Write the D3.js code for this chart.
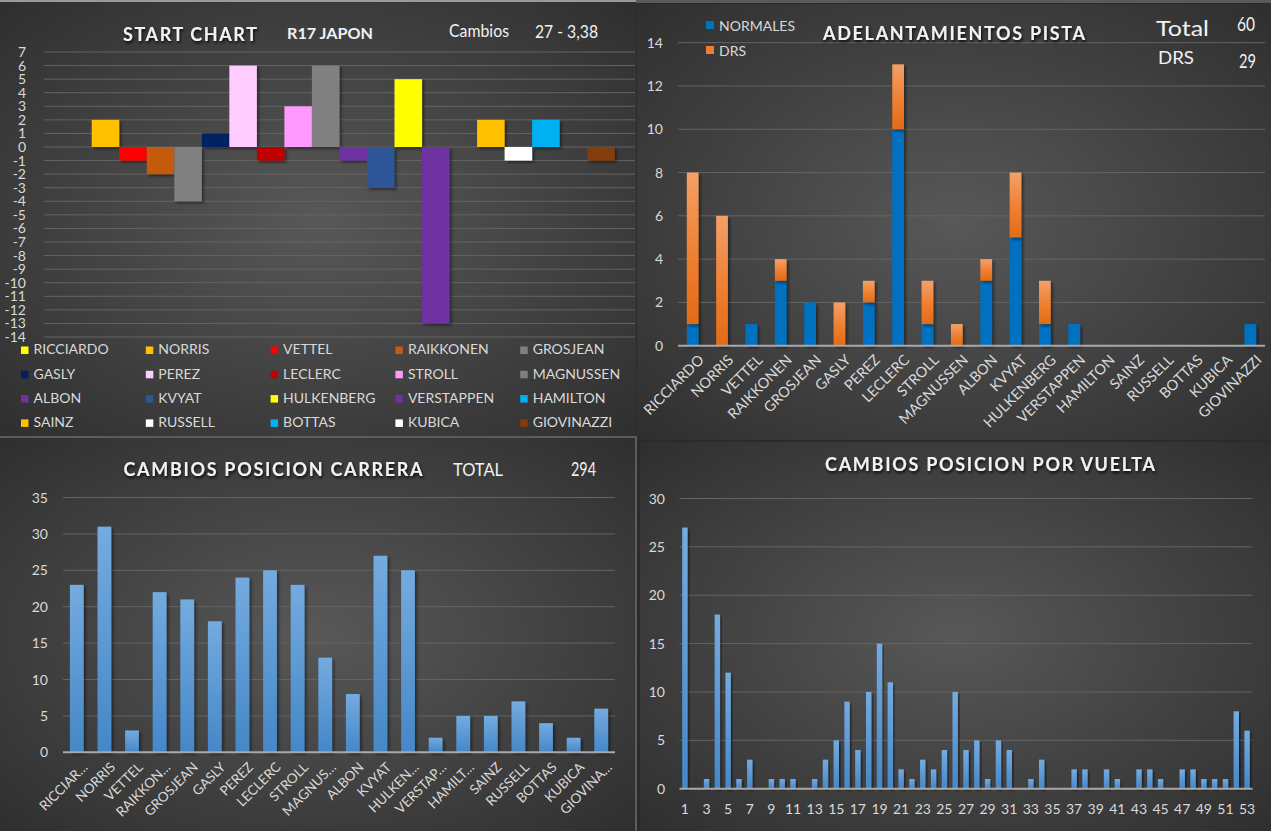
<!DOCTYPE html>
<html>
<head>
<meta charset="utf-8">
<script src="https://cdn.jsdelivr.net/npm/d3@7/dist/d3.min.js"></script>
<style>
html,body{margin:0;padding:0;background:#2c2c2c;}
svg{display:block;}
text{font-family:Lato,"Open Sans",sans-serif;}
</style>
</head>
<body>
<svg id="chart" width="1271" height="831"></svg>
<script>
// ---------- DATA ----------
const drivers = ["RICCIARDO","NORRIS","VETTEL","RAIKKONEN","GROSJEAN","GASLY","PEREZ","LECLERC","STROLL","MAGNUSSEN","ALBON","KVYAT","HULKENBERG","VERSTAPPEN","HAMILTON","SAINZ","RUSSELL","BOTTAS","KUBICA","GIOVINAZZI"];
const driverColors = ["#FFFF00","#FFC000","#FF0000","#C55A11","#808080","#002060","#FFCCFF","#C00000","#FF99FF","#808080","#7030A0","#2F5597","#FFFF00","#7030A0","#00B0F0","#FFC000","#FFFFFF","#00B0F0","#FFFFFF","#843C0C"];
const startGain = [0,2,-1,-2,-4,1,6,-1,3,6,-1,-3,5,-13,0,2,-1,2,0,-1];
const startTicks = d3.range(-14, 8);

const overtakeNormal = [1,0,1,3,2,0,2,10,1,0,3,5,1,1,0,0,0,0,0,1];
const overtakeDRS    = [7,6,0,1,0,2,1,3,2,1,1,3,2,0,0,0,0,0,0,0];
const overtakeTicks = [0,2,4,6,8,10,12,14];

const raceLabels = ["RICCIAR…","NORRIS","VETTEL","RAIKKON…","GROSJEAN","GASLY","PEREZ","LECLERC","STROLL","MAGNUS…","ALBON","KVYAT","HULKEN…","VERSTAP…","HAMILT…","SAINZ","RUSSELL","BOTTAS","KUBICA","GIOVINA…"];
const raceChanges = [23,31,3,22,21,18,24,25,23,13,8,27,25,2,5,5,7,4,2,6];
const raceTicks = [0,5,10,15,20,25,30,35];

const laps = d3.range(1, 54);
const lapChanges = [27,0,1,18,12,1,3,0,1,1,1,0,1,3,5,9,4,10,15,11,2,1,3,2,4,10,4,5,1,5,4,0,1,3,0,0,2,2,0,2,1,0,2,2,1,0,2,2,1,1,1,8,6];
const lapTicks = [0,5,10,15,20,25,30];
const lapTickLabels = laps.filter(l => l % 2 === 1);

// ---------- SETUP ----------
const svg = d3.select("#chart");
const defs = svg.append("defs");

const rg = defs.append("radialGradient").attr("id","panelBg").attr("cx","50%").attr("cy","50%").attr("r","72%");
rg.append("stop").attr("offset","0%").attr("stop-color","#585858");
rg.append("stop").attr("offset","100%").attr("stop-color","#2e2e2e");

const blueG = defs.append("linearGradient").attr("id","blueBar").attr("x1",0).attr("y1",0).attr("x2",0).attr("y2",1);
blueG.append("stop").attr("offset","0%").attr("stop-color","#74ABDF");
blueG.append("stop").attr("offset","100%").attr("stop-color","#4587C8");

const orG = defs.append("linearGradient").attr("id","orangeBar").attr("x1",0).attr("y1",0).attr("x2",0).attr("y2",1);
orG.append("stop").attr("offset","0%").attr("stop-color","#F3A068");
orG.append("stop").attr("offset","55%").attr("stop-color","#EF7F31");
orG.append("stop").attr("offset","100%").attr("stop-color","#E26B16");

const sh = defs.append("filter").attr("id","barShadow").attr("x","-30%").attr("y","-10%").attr("width","160%").attr("height","130%");
sh.append("feDropShadow").attr("dx",2).attr("dy",2).attr("stdDeviation",1.5).attr("flood-color","#000").attr("flood-opacity",0.45);

const tsh = defs.append("filter").attr("id","textShadow").attr("x","-10%").attr("y","-30%").attr("width","120%").attr("height","170%");
tsh.append("feDropShadow").attr("dx",1).attr("dy",2).attr("stdDeviation",1.5).attr("flood-color","#000").attr("flood-opacity",0.85);

const tickColor = "#d9d9d9";
const gridColor = "#646464";
const baseColor = "#a9a9a9";

// background panels
svg.append("rect").attr("x",0).attr("y",0).attr("width",1271).attr("height",831).attr("fill","#2b2b2b");
svg.append("rect").attr("x",0).attr("y",0).attr("width",636).attr("height",2).attr("fill","#9a9a9a");
svg.append("rect").attr("x",636).attr("y",0).attr("width",635).attr("height",3).attr("fill","#5a5a5a");
svg.append("rect").attr("x",0).attr("y",2).attr("width",636).attr("height",434).attr("fill","url(#panelBg)");
svg.append("rect").attr("x",637).attr("y",4).attr("width",634).attr("height",436).attr("fill","url(#panelBg)");
svg.append("rect").attr("x",0).attr("y",438).attr("width",635).attr("height",393).attr("fill","url(#panelBg)");
svg.append("rect").attr("x",640).attr("y",442).attr("width",631).attr("height",389).attr("fill","url(#panelBg)");
svg.append("rect").attr("x",0).attr("y",436).attr("width",637).attr("height",2).attr("fill","#5c5c5c");
svg.append("rect").attr("x",635).attr("y",436).attr("width",2).attr("height",395).attr("fill","#5c5c5c");

function title(x, y, txt, len, size){
  svg.append("text").attr("x",x).attr("y",y).attr("text-anchor","middle")
    .attr("font-family","'Open Sans',Lato,sans-serif").attr("font-weight","bold")
    .attr("font-size",size).attr("fill","#f2f2f2").attr("filter","url(#textShadow)")
    .attr("textLength",len).attr("lengthAdjust","spacing").text(txt);
}
function plain(x, y, txt, size, opts={}){
  const t = svg.append("text").attr("x",x).attr("y",y).attr("font-size",size)
    .attr("fill",opts.fill||"#f2f2f2").attr("text-anchor",opts.anchor||"start").text(txt);
  if(opts.family) t.attr("font-family",opts.family);
  if(opts.weight) t.attr("font-weight",opts.weight);
  if(opts.len) t.attr("textLength",opts.len).attr("lengthAdjust","spacingAndGlyphs");
  if(opts.filter) t.attr("filter",opts.filter);
  return t;
}
const narrow = "'Liberation Sans Narrow','DejaVu Sans Condensed',sans-serif";

// ---------- TOP LEFT: START CHART ----------
{
  const x = d3.scaleBand().domain(drivers).range([64.2, 614.7]).padding(0);
  const y = d3.scaleLinear().domain([-14, 7]).range([337, 52]);
  const g = svg.append("g");
  g.selectAll("line.grid").data(startTicks).join("line")
    .attr("x1",44).attr("x2",635).attr("y1",d=>y(d)).attr("y2",d=>y(d))
    .attr("stroke",gridColor).attr("stroke-width",1);
  g.selectAll("text.tick").data(startTicks).join("text")
    .attr("x",26).attr("y",d=>y(d)).attr("dy","0.36em").attr("text-anchor","end")
    .attr("font-size",14).attr("fill",tickColor).text(d=>d);
  g.selectAll("rect.bar").data(drivers).join("rect")
    .attr("x",d=>x(d)).attr("width",x.bandwidth())
    .attr("y",(d,i)=>y(Math.max(0,startGain[i])))
    .attr("height",(d,i)=>Math.abs(y(startGain[i])-y(0)))
    .attr("fill",(d,i)=>driverColors[i]).attr("filter","url(#barShadow)");
  title(190, 41, "START CHART", 134, 18);
  plain(330, 39, "R17 JAPON", 16, {anchor:"middle", weight:"bold", family:"'Open Sans',Lato,sans-serif", len:86});
  plain(449, 37, "Cambios", 17, {family:narrow, len:60});
  plain(535, 38, "27  -  3,38", 17, {family:narrow, len:63});
  // legend
  const lg = svg.append("g");
  drivers.forEach((d,i)=>{
    const col = i % 5, row = Math.floor(i / 5);
    const lx = 21 + col * 124.8, ly = 346.5 + row * 24.3;
    lg.append("rect").attr("x",lx).attr("y",ly).attr("width",7.5).attr("height",7.5).attr("fill",driverColors[i]);
    lg.append("text").attr("x",lx+12.5).attr("y",ly+7.8).attr("font-size",14).attr("fill",tickColor).text(d);
  });
}

// ---------- TOP RIGHT: ADELANTAMIENTOS PISTA ----------
{
  const x = d3.scaleBand().domain(drivers).range([678, 1265]).paddingInner(0.6).paddingOuter(0.3);
  const y = d3.scaleLinear().domain([0, 14]).range([345.7, 42.7]);
  const g = svg.append("g");
  g.selectAll("line.grid").data(overtakeTicks.filter(d=>d>0)).join("line")
    .attr("x1",678).attr("x2",1265).attr("y1",d=>y(d)).attr("y2",d=>y(d))
    .attr("stroke",gridColor).attr("stroke-width",1);
  g.selectAll("text.tick").data(overtakeTicks).join("text")
    .attr("x",663).attr("y",d=>y(d)).attr("dy","0.36em").attr("text-anchor","end")
    .attr("font-size",14).attr("fill",tickColor).text(d=>d);
  // normal segments
  g.selectAll("rect.norm").data(drivers).join("rect")
    .attr("x",d=>x(d)).attr("width",x.bandwidth())
    .attr("y",(d,i)=>y(overtakeNormal[i])).attr("height",(d,i)=>y(0)-y(overtakeNormal[i]))
    .attr("fill","#0070C0").attr("filter","url(#barShadow)");
  g.selectAll("rect.drs").data(drivers).join("rect")
    .attr("x",d=>x(d)).attr("width",x.bandwidth())
    .attr("y",(d,i)=>y(overtakeNormal[i]+overtakeDRS[i]))
    .attr("height",(d,i)=>y(overtakeNormal[i])-y(overtakeNormal[i]+overtakeDRS[i]))
    .attr("fill","url(#orangeBar)").attr("filter","url(#barShadow)");
  g.append("line").attr("x1",678).attr("x2",1265).attr("y1",y(0)).attr("y2",y(0))
    .attr("stroke",baseColor).attr("stroke-width",2);
  g.selectAll("text.xl").data(drivers).join("text")
    .attr("transform",d=>`translate(${x(d)+x.bandwidth()/2+5},${y(0)+8}) rotate(-45)`)
    .attr("text-anchor","end").attr("dy","0.7em").attr("font-size",14.5).attr("fill",tickColor).text(d=>d);
  // legend
  g.append("rect").attr("x",706).attr("y",21).attr("width",8).attr("height",8).attr("fill","#0070C0");
  g.append("text").attr("x",719).attr("y",31).attr("font-size",14).attr("fill",tickColor).text("NORMALES");
  g.append("rect").attr("x",706).attr("y",46).attr("width",8).attr("height",8).attr("fill","#ED7D31");
  g.append("text").attr("x",719).attr("y",56).attr("font-size",14).attr("fill",tickColor).text("DRS");
  title(954, 40, "ADELANTAMIENTOS PISTA", 262, 18);
  plain(1156, 36, "Total", 21, {len:53});
  plain(1237, 31, "60", 19, {family:narrow, len:18});
  plain(1158, 64, "DRS", 17, {len:36});
  plain(1239, 68, "29", 19, {family:narrow, len:17});
}

// ---------- BOTTOM LEFT: CAMBIOS POSICION CARRERA ----------
{
  const x = d3.scaleBand().domain(drivers).range([63, 615]).paddingInner(0.5).paddingOuter(0.25);
  const y = d3.scaleLinear().domain([0, 35]).range([752.3, 497.5]);
  const g = svg.append("g");
  g.selectAll("line.grid").data(raceTicks.filter(d=>d>0)).join("line")
    .attr("x1",63).attr("x2",615).attr("y1",d=>y(d)).attr("y2",d=>y(d))
    .attr("stroke",gridColor).attr("stroke-width",1);
  g.selectAll("text.tick").data(raceTicks).join("text")
    .attr("x",48).attr("y",d=>y(d)).attr("dy","0.36em").attr("text-anchor","end")
    .attr("font-size",14).attr("fill",tickColor).text(d=>d);
  g.selectAll("rect.bar").data(drivers).join("rect")
    .attr("x",d=>x(d)).attr("width",x.bandwidth())
    .attr("y",(d,i)=>y(raceChanges[i])).attr("height",(d,i)=>y(0)-y(raceChanges[i]))
    .attr("fill","url(#blueBar)").attr("filter","url(#barShadow)");
  g.append("line").attr("x1",63).attr("x2",615).attr("y1",y(0)).attr("y2",y(0))
    .attr("stroke",baseColor).attr("stroke-width",2);
  g.selectAll("text.xl").data(drivers).join("text")
    .attr("transform",d=>`translate(${x(d)+x.bandwidth()/2+5},${y(0)+9}) rotate(-45)`)
    .attr("text-anchor","end").attr("dy","0.7em").attr("font-size",13.5).attr("fill",tickColor)
    .text((d,i)=>raceLabels[i]);
  title(273, 476, "CAMBIOS POSICION CARRERA", 299, 18);
  plain(453, 476, "TOTAL", 17, {family:narrow, len:50});
  plain(571, 476, "294", 19, {family:narrow, len:25});
}

// ---------- BOTTOM RIGHT: CAMBIOS POSICION POR VUELTA ----------
{
  const x = d3.scaleBand().domain(laps).range([679.5, 1252.5]).paddingInner(0.5).paddingOuter(0.25);
  const y = d3.scaleLinear().domain([0, 30]).range([788.7, 498.5]);
  const g = svg.append("g");
  g.selectAll("line.grid").data(lapTicks.filter(d=>d>0)).join("line")
    .attr("x1",679.5).attr("x2",1252.5).attr("y1",d=>y(d)).attr("y2",d=>y(d))
    .attr("stroke",gridColor).attr("stroke-width",1);
  g.selectAll("text.tick").data(lapTicks).join("text")
    .attr("x",665).attr("y",d=>y(d)).attr("dy","0.36em").attr("text-anchor","end")
    .attr("font-size",14).attr("fill",tickColor).text(d=>d);
  g.selectAll("rect.bar").data(laps).join("rect")
    .attr("x",d=>x(d)).attr("width",x.bandwidth())
    .attr("y",(d,i)=>y(lapChanges[i])).attr("height",(d,i)=>y(0)-y(lapChanges[i]))
    .attr("fill","url(#blueBar)").attr("filter","url(#barShadow)");
  g.append("line").attr("x1",679.5).attr("x2",1252.5).attr("y1",y(0)).attr("y2",y(0))
    .attr("stroke",baseColor).attr("stroke-width",2);
  g.selectAll("text.xl").data(lapTickLabels).join("text")
    .attr("x",d=>x(d)+x.bandwidth()/2).attr("y",814).attr("text-anchor","middle")
    .attr("font-size",14).attr("fill",tickColor).text(d=>d);
  title(990, 471, "CAMBIOS POSICION POR VUELTA", 330, 18);
}
</script>
</body>
</html>
